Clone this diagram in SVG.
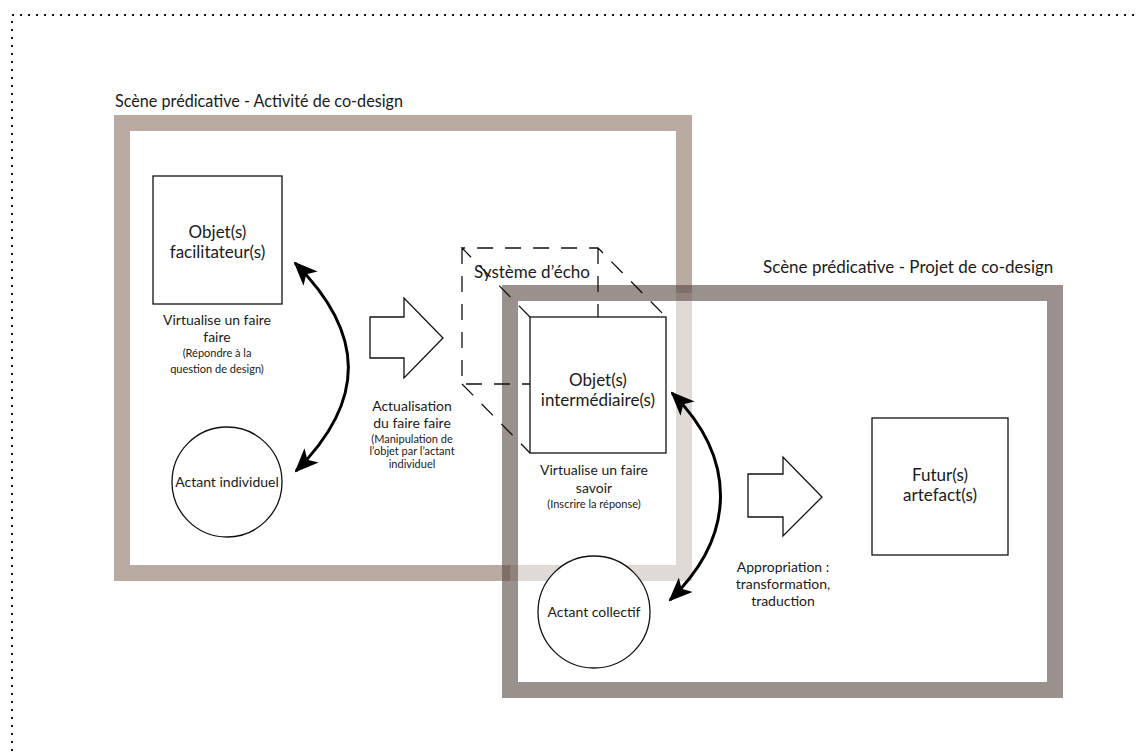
<svg xmlns="http://www.w3.org/2000/svg" width="1140" height="754" viewBox="0 0 1140 754">
<style>
text{font-family:Lato,"Noto Sans","Liberation Sans",sans-serif;fill:#1a1a1a;text-anchor:middle}
.hdr{font-size:17px;text-anchor:start}
.big{font-size:17px}
.mid{font-size:14px}
.sm{font-size:11px}
.box{fill:#fff;stroke:#111;stroke-width:1.3}
.dash{fill:none;stroke:#111;stroke-width:1.3;stroke-dasharray:16 12}
.curve{fill:none;stroke:#000;stroke-width:3}
</style>
<defs>
<marker id="ah" viewBox="0 0 24 20" refX="22" refY="10" markerWidth="24" markerHeight="20" markerUnits="userSpaceOnUse" orient="auto-start-reverse">
<path d="M0,0 L24,10 L0,20 L6,10 Z" fill="#000"/>
</marker>
</defs>
<rect x="12" y="15" width="1200" height="800" fill="none" stroke="#111" stroke-width="2" stroke-dasharray="2 6"/>

<g id="scene-activite">
<rect x="122" y="123" width="562" height="450" fill="#fff" stroke="#b9aaa2" stroke-width="16"/>
<text class="hdr" x="115" y="107" textLength="288" lengthAdjust="spacingAndGlyphs">Scène prédicative - Activité de co-design</text>
</g>
<g id="scene-projet">
<rect x="510" y="293" width="545" height="397" fill="#fff" fill-opacity="0.56" stroke="rgb(88,72,63)" stroke-opacity="0.6" stroke-width="16"/>
<text class="hdr" x="763" y="273">Scène prédicative - Projet de co-design</text>
</g>

<g id="systeme-echo">
<path class="dash" d="M530,317 L462,248 L598,248 L666,317 M598,248 L598,317 M462,248 L462,384 L530,384 M462,384 L530,453"/>
<text class="big" x="532" y="278">Système d’écho</text>
</g>

<g id="objet-facilitateur">
<rect class="box" x="153" y="176" width="129" height="128"/>
<text class="big" x="217.5" y="238">Objet(s)</text>
<text class="big" x="217.5" y="258">facilitateur(s)</text>
<text class="mid" x="217" y="325">Virtualise un faire</text>
<text class="mid" x="217" y="342">faire</text>
<text class="sm" x="217" y="357">(Répondre à la</text>
<text class="sm" x="217" y="373">question de design)</text>
</g>

<g id="actant-individuel">
<circle cx="227" cy="482" r="55" fill="#fff" stroke="#111" stroke-width="1.3"/>
<text class="mid" x="227" y="487">Actant individuel</text>
</g>

<g id="objet-intermediaire">
<rect class="box" x="530" y="317" width="136" height="136"/>
<text class="big" x="598" y="386">Objet(s)</text>
<text class="big" x="598" y="406">intermédiaire(s)</text>
<text class="mid" x="594" y="475">Virtualise un faire</text>
<text class="mid" x="594" y="493">savoir</text>
<text class="sm" x="594" y="508">(Inscrire la réponse)</text>
</g>

<g id="actant-collectif">
<circle cx="594" cy="612" r="56" fill="#fff" stroke="#111" stroke-width="1.3"/>
<text class="mid" x="594" y="617">Actant collectif</text>
</g>

<g id="futur-artefact">
<rect class="box" x="872" y="418" width="136" height="137"/>
<text class="big" x="940" y="481">Futur(s)</text>
<text class="big" x="940" y="501">artefact(s)</text>
</g>

<g id="connectors">
<path class="curve" d="M295,263 C366,334 366,401 296,471" marker-start="url(#ah)" marker-end="url(#ah)"/>
<path class="curve" d="M672,393 C737,458 737,535 670,600" marker-start="url(#ah)" marker-end="url(#ah)"/>
<path class="box" d="M370,317 L404,317 L404,298 L443,338 L404,378 L404,358 L370,358 Z"/>
<text class="mid" x="412" y="411">Actualisation</text>
<text class="mid" x="412" y="428">du faire faire</text>
<text class="sm" x="412" y="443">(Manipulation de</text>
<text class="sm" x="412" y="455">l’objet par l’actant</text>
<text class="sm" x="412" y="468">individuel</text>
<path class="box" d="M748,474 L783,474 L783,457 L822,497 L783,536 L783,517 L748,517 Z"/>
<text class="mid" x="783" y="572">Appropriation :</text>
<text class="mid" x="783" y="589">transformation,</text>
<text class="mid" x="783" y="606">traduction</text>
</g>
</svg>
